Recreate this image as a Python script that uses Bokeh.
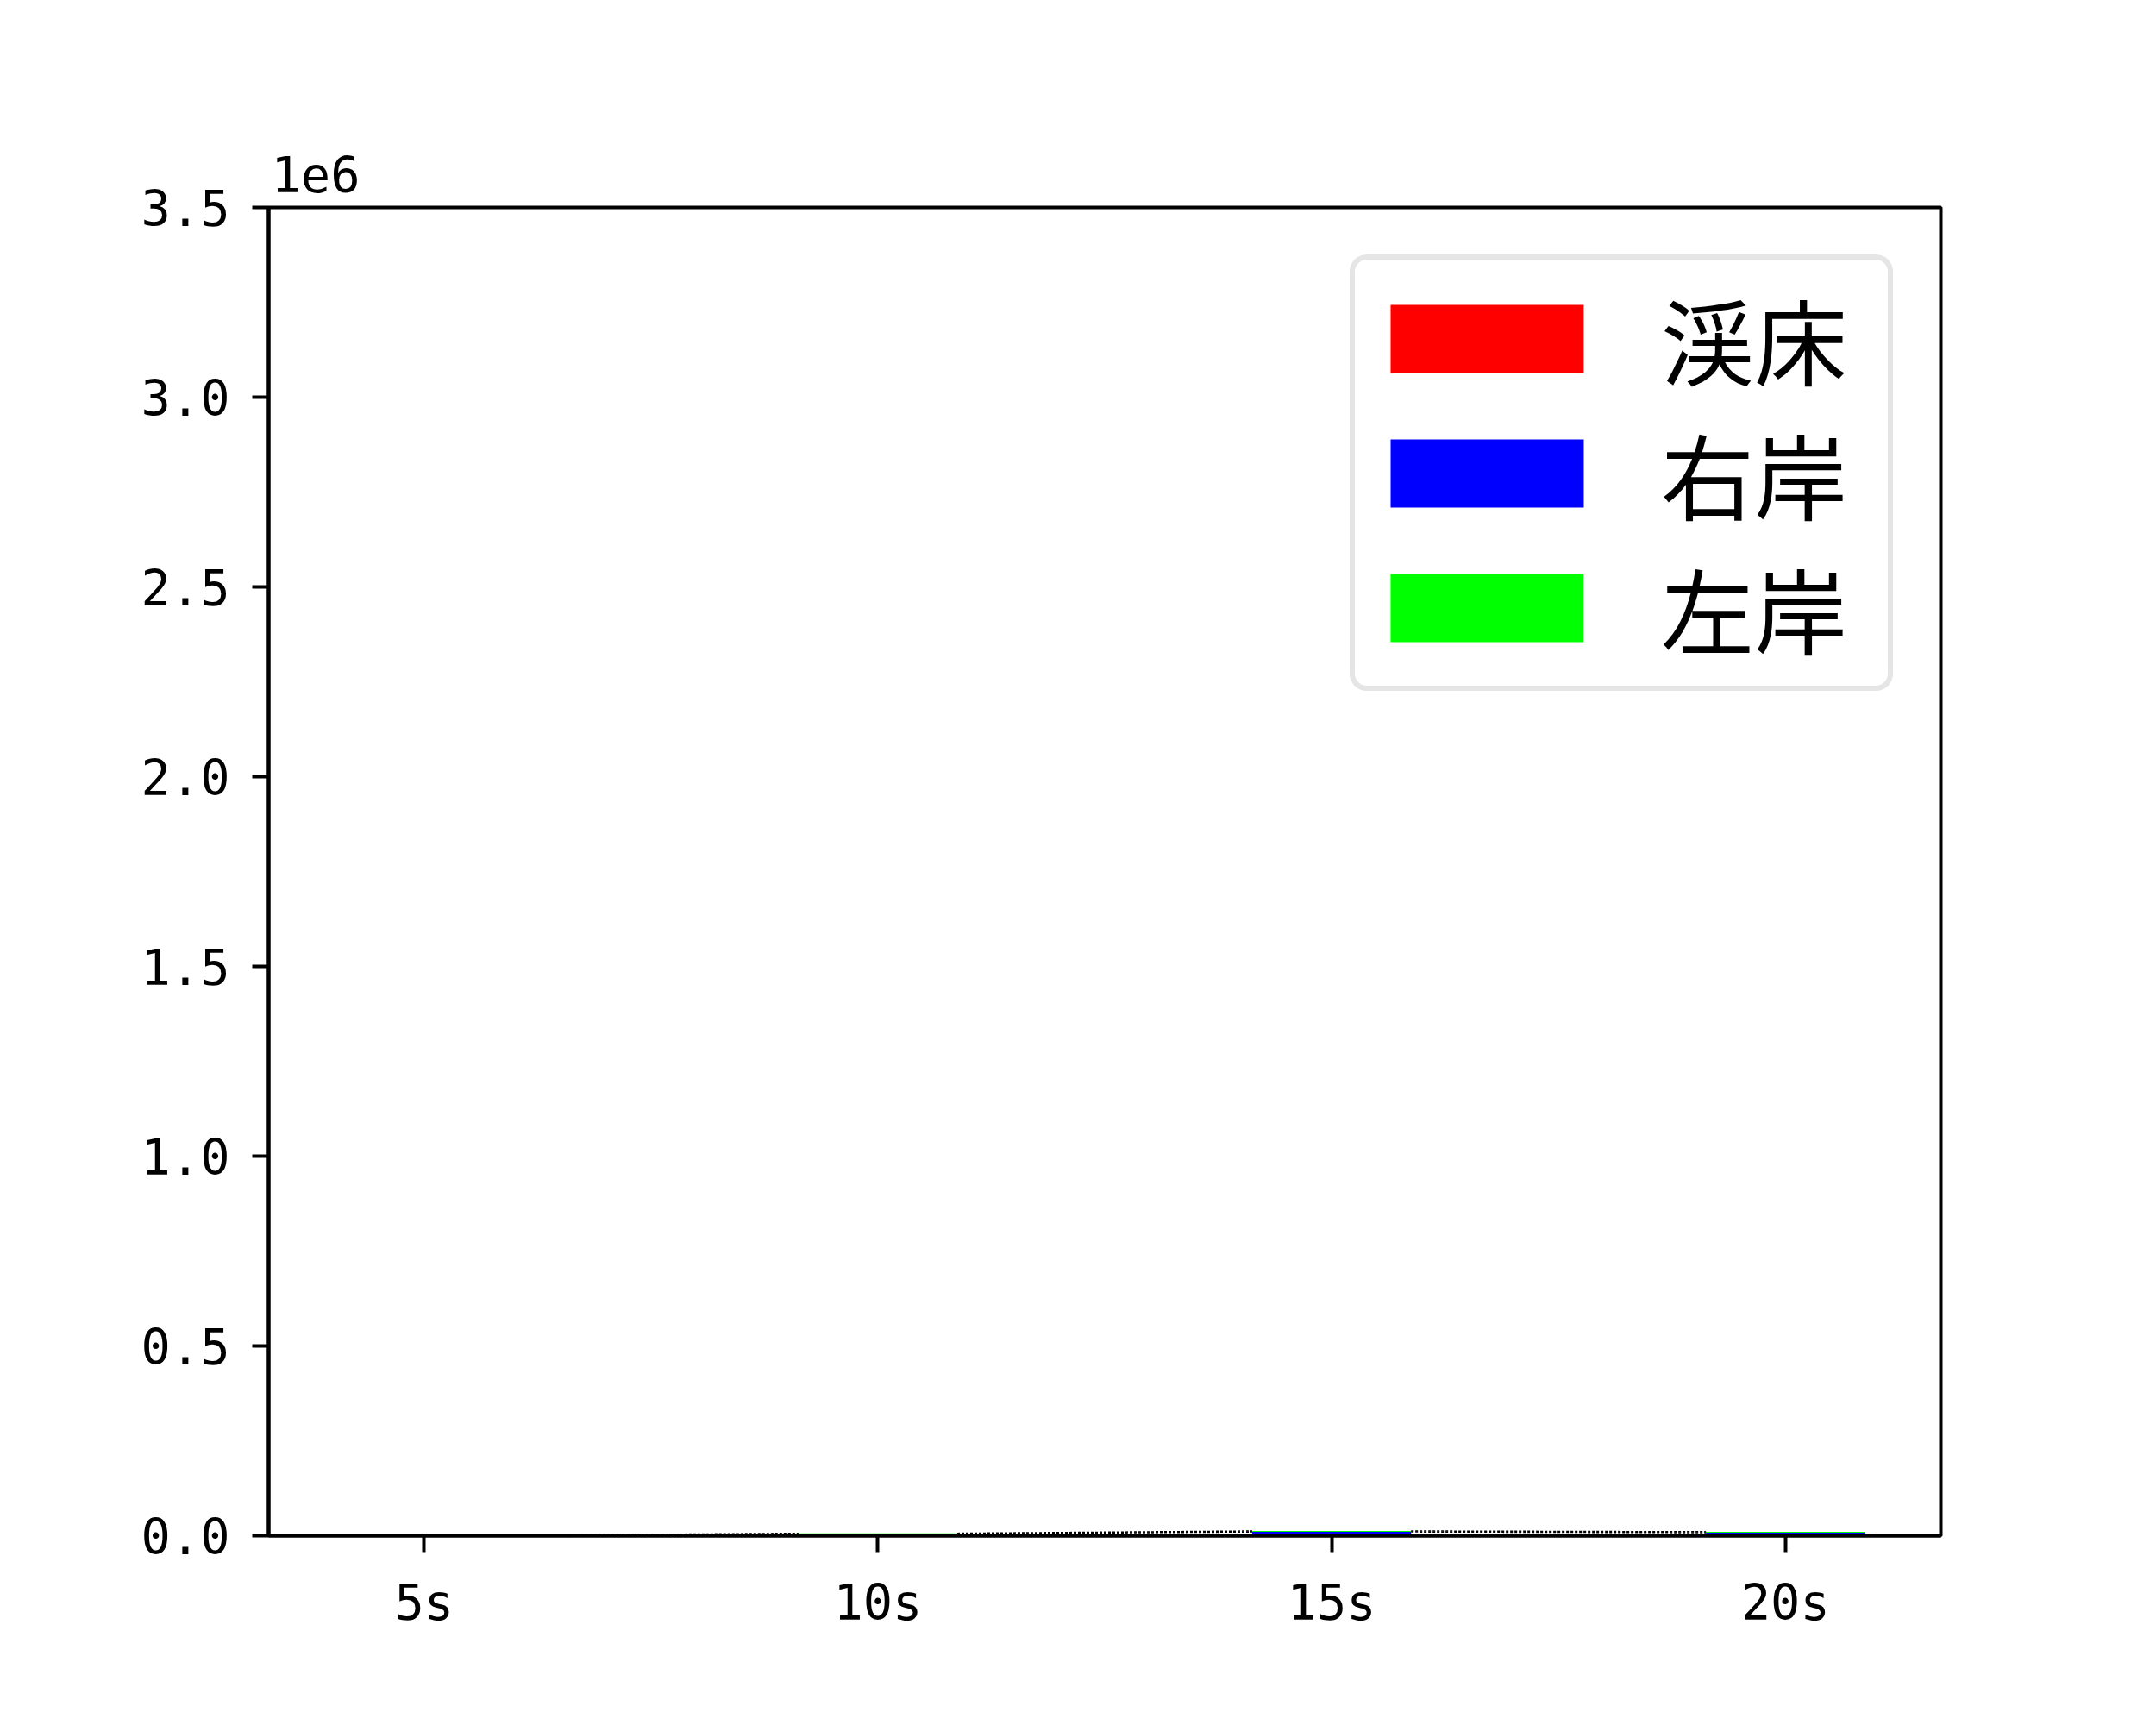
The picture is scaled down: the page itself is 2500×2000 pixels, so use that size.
from bokeh.plotting import figure
from bokeh.models import (Range1d, FixedTicker, Legend, LegendItem,
                          CustomJSTickFormatter, ColumnDataSource)
from bokeh.embed import file_html
from bokeh.resources import INLINE

# ---- data ----
categories = ["5s", "10s", "15s", "20s"]
x_pos = [0, 1, 2, 3]
bed = [300, 2000, 3500, 3000]          # 渓床
right_bank = [200, 2500, 6500, 5000]   # 右岸
left_bank = [200, 2000, 2500, 2500]    # 左岸
series_names = ["渓床", "右岸", "左岸"]
series_keys = ["bed", "right_bank", "left_bank"]
colors = ["#ff0000", "#0000ff", "#00ff00"]
y_ticks = [0, 500000, 1000000, 1500000, 2000000, 2500000, 3000000, 3500000]
bar_width = 0.35

TICK_FONT = "DejaVu Sans Mono"
LEGEND_FONT = "Noto Sans CJK JP"

p = figure(width=2500, height=2000, output_backend="svg", toolbar_location=None,
           x_range=Range1d(-0.3425, 3.3425), y_range=Range1d(0, 3500000),
           min_border_left=311, min_border_right=250,
           min_border_top=240, min_border_bottom=220)

src = ColumnDataSource(dict(x=x_pos, bed=bed, right_bank=right_bank, left_bank=left_bank))
renderers = p.vbar_stack(series_keys, x="x", width=bar_width, color=colors,
                         line_color=None, source=src)

# dashed connectors between stack levels of neighbouring bars
cum = []
run = [0] * len(x_pos)
for s in (bed, right_bank, left_bank):
    run = [a + b for a, b in zip(run, s)]
    cum.append(list(run))
xs, ys = [], []
for level in cum:
    for i in range(len(x_pos) - 1):
        xs.append([x_pos[i] + bar_width / 2, x_pos[i + 1] - bar_width / 2])
        ys.append([level[i], level[i + 1]])
p.multi_line(xs, ys, line_color="black", line_width=1.5, line_dash="3 2")

# axes styling
p.xgrid.visible = False
p.ygrid.visible = False
p.outline_line_color = "black"
p.outline_line_width = 4

p.xaxis.ticker = FixedTicker(ticks=x_pos)
p.xaxis.major_label_overrides = {x: c for x, c in zip(x_pos, categories)}
p.yaxis.ticker = FixedTicker(ticks=y_ticks)
p.yaxis.formatter = CustomJSTickFormatter(code="return (tick/1e6).toFixed(1);")

for ax in (p.xaxis, p.yaxis):
    ax.axis_line_width = 4
    ax.axis_line_color = "black"
    ax.major_tick_line_width = 4
    ax.major_tick_out = 19
    ax.major_tick_in = 0
    ax.minor_tick_line_color = None
    ax.major_label_text_font = TICK_FONT
    ax.major_label_text_font_size = "57px"
    ax.major_label_text_color = "black"
p.xaxis.major_label_standoff = 25
p.yaxis.major_label_standoff = 26

# offset text "1e6"
p.title.text = "1e6"
p.title.align = "left"
p.title.offset = 3
p.title.standoff = 36
p.title.text_font = TICK_FONT
p.title.text_font_size = "57px"
p.title.text_font_style = "normal"
p.title.text_color = "black"

legend = Legend(items=[LegendItem(label=n, renderers=[r]) for n, r in zip(series_names, renderers)],
                location="top_right", margin=55, padding=13, spacing=0,
                glyph_width=280, glyph_height=99, label_standoff=62, label_width=250,
                label_text_font=LEGEND_FONT, label_text_font_size="108px",
                label_text_color="black", label_text_baseline="middle",
                border_line_color="#cccccc", border_line_width=6,
                background_fill_color="white", background_fill_alpha=1.0)
try:
    legend.border_radius = 20
except Exception:
    pass
p.add_layout(legend)

open("out.html", "w").write(file_html(p, INLINE))
